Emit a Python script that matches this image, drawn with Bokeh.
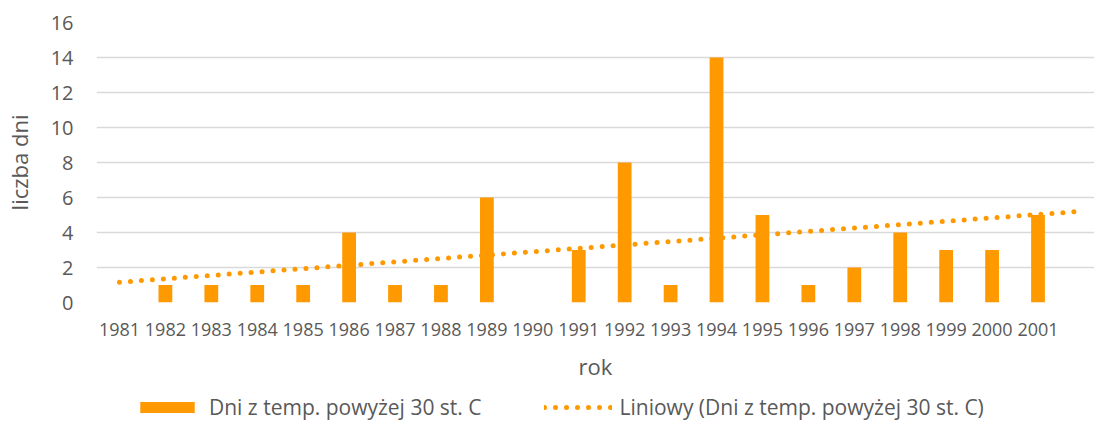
import numpy as np
from bokeh.plotting import figure
from bokeh.layouts import column
from bokeh.models import Range1d, FixedTicker, Legend, LegendItem
from bokeh.embed import file_html
from bokeh.resources import INLINE

# ---- data ----
years = [1981, 1982, 1983, 1984, 1985, 1986, 1987, 1988, 1989, 1990, 1991,
         1992, 1993, 1994, 1995, 1996, 1997, 1998, 1999, 2000, 2001]
days = [0, 1, 1, 1, 1, 4, 1, 1, 6, 0, 3, 8, 1, 14, 5, 1, 2, 4, 3, 3, 5]
y_ticks = [0, 2, 4, 6, 8, 10, 12, 14, 16]
series_name = "Dni z temp. powyżej 30 st. C"
trend_name = "Liniowy (Dni z temp. powyżej 30 st. C)"
x_title = "rok"
y_title = "liczba dni"

# linear trend (Excel "Liniowy"), forecast forward by one period
coef = np.polyfit(years, days, 1)
trend_x = [years[0], years[-1] + 1]
trend_y = list(np.polyval(coef, trend_x))

ORANGE = "#FF9900"
TEXT = "#595959"
FONT = "Open Sans"
BAR_STYLE = dict(fill_color=ORANGE, line_color=None)
TREND_STYLE = dict(line_color=ORANGE, line_width=5, line_dash="0 11", line_cap="round")

W = 1094
MAIN_H = 390
LEG_H = 31

p = figure(width=W, height=MAIN_H, output_backend="svg", toolbar_location=None,
           x_range=Range1d(1980.5, 2002.23), y_range=Range1d(0, 16),
           min_border_left=90, min_border_right=0, min_border_top=22,
           min_border_bottom=88)
p.outline_line_color = None
p.background_fill_color = "white"
p.border_fill_color = "white"

p.vbar(x=years, top=days, width=0.3, **BAR_STYLE)
p.line(trend_x, trend_y, **TREND_STYLE)

# axes
p.xaxis.ticker = FixedTicker(ticks=years)
p.yaxis.ticker = FixedTicker(ticks=y_ticks)
for ax in (p.xaxis[0], p.yaxis[0]):
    ax.axis_line_color = None
    ax.major_tick_line_color = None
    ax.minor_tick_line_color = None
    ax.major_tick_out = 0
    ax.major_tick_in = 0
    ax.major_label_text_color = TEXT
    ax.major_label_text_font = FONT
    ax.axis_label_text_color = TEXT
    ax.axis_label_text_font = FONT
    ax.axis_label_text_font_style = "normal"
    ax.axis_label_text_font_size = "22px"

p.xaxis.major_label_text_font_size = "18px"
p.xaxis.major_label_standoff = 20
p.xaxis.axis_label = x_title
p.xaxis.axis_label_standoff = 12

p.yaxis.major_label_text_font_size = "20px"
p.yaxis.major_label_standoff = 23
p.yaxis.axis_label = y_title
p.yaxis.axis_label_standoff = 14

p.xgrid.grid_line_color = None
p.ygrid.ticker = FixedTicker(ticks=y_ticks)
p.ygrid.grid_line_color = "#d9d9d9"
p.ygrid.grid_line_width = 1.5

# ---- legend strip below the chart (proxy glyphs with no drawable points) ----
nan = float("nan")
lg = figure(width=W, height=LEG_H, output_backend="svg", toolbar_location=None,
            x_range=Range1d(0, 1), y_range=Range1d(0, 1),
            min_border_left=90, min_border_right=0, min_border_top=0,
            min_border_bottom=0, x_axis_type=None, y_axis_type=None)
lg.outline_line_color = None
lg.grid.visible = False
lb = lg.vbar(x=[nan], top=[nan], width=0.3, **BAR_STYLE)
ll = lg.line([nan, nan], [nan, nan], **TREND_STYLE)

legend = Legend(items=[LegendItem(label=series_name, renderers=[lb]),
                       LegendItem(label=trend_name, renderers=[ll])],
                orientation="horizontal", location=(37, 0),
                padding=0, margin=0, spacing=62,
                glyph_width=68, glyph_height=14, label_standoff=8,
                label_text_font=FONT, label_text_font_size="21px",
                label_text_color=TEXT, border_line_color=None,
                background_fill_alpha=0)
lg.add_layout(legend, "center")

layout = column(p, lg, spacing=0)
open("out.html", "w").write(file_html(layout, INLINE))
